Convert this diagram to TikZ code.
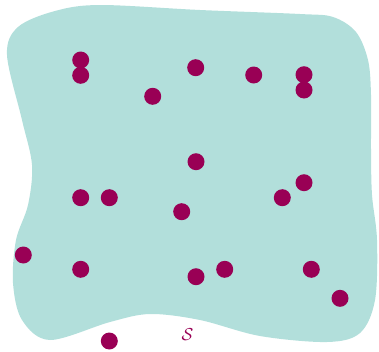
\documentclass[tikz,border=0pt]{standalone}
\usetikzlibrary{calc}
\definecolor{blobfill}{HTML}{B2DFDB}
\definecolor{dotcol}{HTML}{990055}
\tikzset{
  pt/.style={circle,fill=dotcol,inner sep=0pt,minimum size=17pt},
  blob/.style={fill=blobfill,draw=none}
}
\begin{document}
\begin{tikzpicture}[x=1pt,y=-1pt]
\useasboundingbox (0,0) rectangle (379,351);
\path[blob] plot[smooth cycle,tension=0.55] coordinates {
 (7,55) (18,27) (55,11) (100,5) (200,10) (300,14) (333,17) (356,32) (368,60) (371,95)
 (371,150) (372,195) (377,240) (375,300) (360,333) (327,342) (260,336) (200,320)
 (150,314) (110,322) (50,340) (22,320) (13,283) (16,240) (28,205) (32,165) (22,120)};
\foreach \n/\x/\y in {a/80.7/60, b/80.7/75.3, c/195.7/67.7, d/253.7/75, e/304/74.7,
  f/304/90, g/152.7/96.3, h/196/161.7, i/80.7/197.7, j/109.3/197.7, k/181.7/211.7,
  l/282.3/197.7, m/304/182.7, n/23.3/255, o/80.7/269.3, p/196/276.7, q/224.7/269.3,
  r/311.3/269.3, s/340/298.3, t/109.3/341}
  \node[pt] (\n) at (\x,\y) {};
\node[text=dotcol,font=\fontsize{16}{16}\selectfont] (lbl) at (187.5,334.5) {$\mathcal{S}$};
\end{tikzpicture}
\end{document}
